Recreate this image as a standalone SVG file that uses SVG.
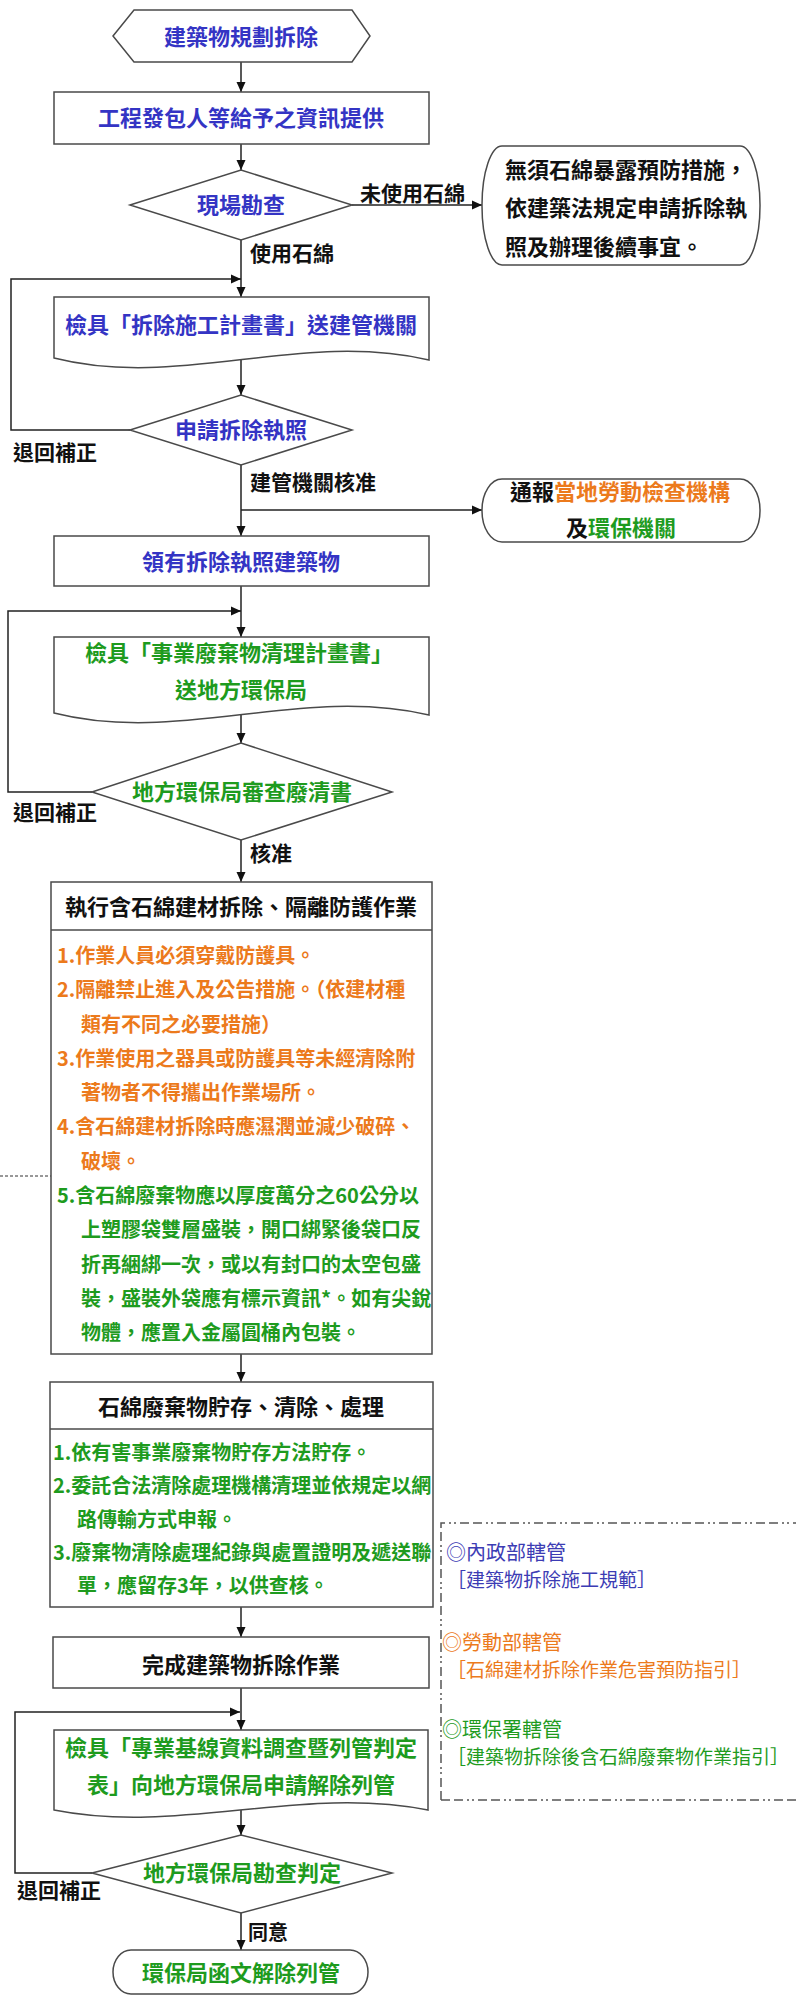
<svg xmlns="http://www.w3.org/2000/svg" width="796" height="1995" viewBox="0 0 796 1995">
<defs>
<marker id="arr" markerUnits="userSpaceOnUse" markerWidth="10" markerHeight="10" refX="10" refY="5" orient="auto">
<path d="M0,0.5 L10,5 L0,9.5 z" fill="#111"/>
</marker>
<style>
.n{fill:#fff;stroke:#4a4a4a;stroke-width:1.5}
.t{font-family:"Noto Sans CJK TC","Noto Sans CJK SC",sans-serif;font-weight:700}
.thin{font-family:"Noto Sans CJK TC","Noto Sans CJK SC",sans-serif;font-weight:400}
.c{text-anchor:middle}
.blue{fill:#3434c4}
.green{fill:#1e9b1e}
.orange{fill:#ec7a1c}
.black{fill:#111}
.f22{font-size:22px}
.f21{font-size:21px}
.f20{font-size:20px}
.f19{font-size:19px}
.e{fill:none;stroke:#222;stroke-width:1.5}
</style>
</defs>
<rect width="796" height="1995" fill="#fff"/>

<g id="connectors">
<line class="e" x1="241" y1="62" x2="241" y2="92" marker-end="url(#arr)"/>
<line class="e" x1="241" y1="144" x2="241" y2="170" marker-end="url(#arr)"/>
<line class="e" x1="352" y1="205" x2="482" y2="205" marker-end="url(#arr)"/>
<line class="e" x1="241" y1="240" x2="241" y2="297" marker-end="url(#arr)"/>
<polyline class="e" points="130,430 11,430 11,279 241,279" marker-end="url(#arr)"/>
<line class="e" x1="241" y1="360" x2="241" y2="395" marker-end="url(#arr)"/>
<line class="e" x1="241" y1="465" x2="241" y2="536" marker-end="url(#arr)"/>
<line class="e" x1="241" y1="510" x2="482" y2="510" marker-end="url(#arr)"/>
<line class="e" x1="241" y1="586" x2="241" y2="637" marker-end="url(#arr)"/>
<polyline class="e" points="92,792 8,792 8,611 241,611" marker-end="url(#arr)"/>
<line class="e" x1="241" y1="715" x2="241" y2="743" marker-end="url(#arr)"/>
<line class="e" x1="241" y1="840" x2="241" y2="882" marker-end="url(#arr)"/>
<line class="e" x1="241" y1="1354" x2="241" y2="1382" marker-end="url(#arr)"/>
<line class="e" x1="241" y1="1607" x2="241" y2="1637" marker-end="url(#arr)"/>
<line class="e" x1="241" y1="1688" x2="241" y2="1730" marker-end="url(#arr)"/>
<polyline class="e" points="92,1873 15,1873 15,1712 240,1712" marker-end="url(#arr)"/>
<line class="e" x1="241" y1="1810" x2="241" y2="1835" marker-end="url(#arr)"/>
<line class="e" x1="241" y1="1913" x2="241" y2="1950" marker-end="url(#arr)"/>
<line x1="0" y1="1176" x2="51" y2="1176" stroke="#333" stroke-width="1" stroke-dasharray="3,2"/>
<text class="t black f21" x="360" y="201">未使用石綿</text>
<text class="t black f21" x="250" y="261">使用石綿</text>
<text class="t black f21" x="13" y="460">退回補正</text>
<text class="t black f21" x="250" y="490">建管機關核准</text>
<text class="t black f21" x="13" y="820">退回補正</text>
<text class="t black f21" x="250" y="861">核准</text>
<text class="t black f21" x="17" y="1898">退回補正</text>
<text class="t black f20" x="248" y="1940">同意</text>
</g>

<g id="start">
<polygon class="n" points="113,36 134,10 352,10 370,36 352,62 134,62"/>
<text class="t blue f22 c" x="241" y="45">建築物規劃拆除</text>
</g>

<g id="info">
<rect class="n" x="54" y="92" width="375" height="52"/>
<text class="t blue f22 c" x="241" y="126">工程發包人等給予之資訊提供</text>
</g>

<g id="survey">
<polygon class="n" points="130,205 241,170 352,205 241,240"/>
<text class="t blue f22 c" x="241" y="213">現場勘查</text>
</g>

<g id="noasbestos">
<rect class="n" x="482" y="146" width="278" height="119" rx="20" ry="59"/>
<text class="t black f22" x="505" y="178">無須石綿暴露預防措施，</text>
<text class="t black f22" x="505" y="216">依建築法規定申請拆除執</text>
<text class="t black f22" x="505" y="255">照及辦理後續事宜。</text>
</g>

<g id="plan">
<path class="n" d="M54,297 H429 V360 C300,330 180,390 54,358 Z"/>
<text class="t blue f22 c" x="241" y="333">檢具「拆除施工計畫書」送建管機關</text>
</g>

<g id="permit">
<polygon class="n" points="130,430 241,395 352,430 241,465"/>
<text class="t blue f22 c" x="241" y="438">申請拆除執照</text>
</g>

<g id="notify">
<rect class="n" x="482" y="479" width="278" height="63" rx="20" ry="31"/>
<text class="t f22" x="510" y="500"><tspan class="black">通報</tspan><tspan class="orange">當地勞動檢查機構</tspan></text>
<text class="t f22" x="566" y="536"><tspan class="black">及</tspan><tspan class="green">環保機關</tspan></text>
</g>

<g id="licensed">
<rect class="n" x="54" y="536" width="375" height="50"/>
<text class="t blue f22 c" x="241" y="570">領有拆除執照建築物</text>
</g>

<g id="wasteplan">
<path class="n" d="M54,637 H429 V715 C300,685 180,745 54,713 Z"/>
<text class="t green f22 c" x="239" y="661">檢具「事業廢棄物清理計畫書」</text>
<text class="t green f22 c" x="241" y="698">送地方環保局</text>
</g>

<g id="epareview">
<polygon class="n" points="92,792 241,743 392,792 241,840"/>
<text class="t green f22 c" x="242" y="800">地方環保局審查廢清書</text>
</g>

<g id="demolition">
<rect class="n" x="51" y="882" width="381" height="472"/>
<line class="n" x1="51" y1="930" x2="432" y2="930"/>
<text class="t black f22 c" x="241" y="915">執行含石綿建材拆除、隔離防護作業</text>
<g class="t f20 orange">
<text x="57" y="963">1.作業人員必須穿戴防護具。</text>
<text x="57" y="997">2.隔離禁止進入及公告措施。（依建材種</text>
<text x="81" y="1032">類有不同之必要措施）</text>
<text x="57" y="1066">3.作業使用之器具或防護具等未經清除附</text>
<text x="81" y="1100">著物者不得攜出作業場所。</text>
<text x="57" y="1134">4.含石綿建材拆除時應濕潤並減少破碎、</text>
<text x="81" y="1169">破壞。</text>
</g>
<g class="t f20 green">
<text x="57" y="1203">5.含石綿廢棄物應以厚度萬分之60公分以</text>
<text x="81" y="1237">上塑膠袋雙層盛裝，開口綁緊後袋口反</text>
<text x="81" y="1272">折再綑綁一次，或以有封口的太空包盛</text>
<text x="81" y="1306">裝，盛裝外袋應有標示資訊*。如有尖銳</text>
<text x="81" y="1340">物體，應置入金屬圓桶內包裝。</text>
</g>
</g>

<g id="storage">
<rect class="n" x="50" y="1382" width="383" height="225"/>
<line class="n" x1="50" y1="1429" x2="433" y2="1429"/>
<text class="t black f22 c" x="241" y="1415">石綿廢棄物貯存、清除、處理</text>
<g class="t f20 green">
<text x="53" y="1460">1.依有害事業廢棄物貯存方法貯存。</text>
<text x="53" y="1493">2.委託合法清除處理機構清理並依規定以網</text>
<text x="77" y="1527">路傳輸方式申報。</text>
<text x="53" y="1560">3.廢棄物清除處理紀錄與處置證明及遞送聯</text>
<text x="77" y="1593">單，應留存3年，以供查核。</text>
</g>
</g>

<g id="regulations">
<path d="M441,1800 V1523 H800 M441,1800 H800" fill="none" stroke="#555" stroke-width="1.5" stroke-dasharray="9,4,9,4,2,3,2,4"/>
<text class="thin f20" x="446" y="1560" fill="#3c3cb4">◎內政部轄管</text>
<text class="thin f19" x="447" y="1587" fill="#3c3cb4">［建築物拆除施工規範］</text>
<text class="thin f20 orange" x="442" y="1650">◎勞動部轄管</text>
<text class="thin f19 orange" x="447" y="1677">［石綿建材拆除作業危害預防指引］</text>
<text class="thin f20 green" x="442" y="1737">◎環保署轄管</text>
<text class="thin f19 green" x="447" y="1764">［建築物拆除後含石綿廢棄物作業指引］</text>
</g>

<g id="complete">
<rect class="n" x="53" y="1637" width="376" height="51"/>
<text class="t black f22 c" x="241" y="1673">完成建築物拆除作業</text>
</g>

<g id="baseline">
<path class="n" d="M54,1730 H428 V1810 C300,1785 180,1835 54,1810 Z"/>
<text class="t green f22 c" x="241" y="1756">檢具「專業基線資料調查暨列管判定</text>
<text class="t green f22 c" x="241" y="1793">表」向地方環保局申請解除列管</text>
</g>

<g id="inspect">
<polygon class="n" points="92,1873 241,1835 392,1873 241,1913"/>
<text class="t green f22 c" x="242" y="1881">地方環保局勘查判定</text>
</g>

<g id="end">
<rect class="n" x="113" y="1950" width="255" height="44" rx="18" ry="22"/>
<text class="t green f22 c" x="241" y="1981">環保局函文解除列管</text>
</g>
</svg>
